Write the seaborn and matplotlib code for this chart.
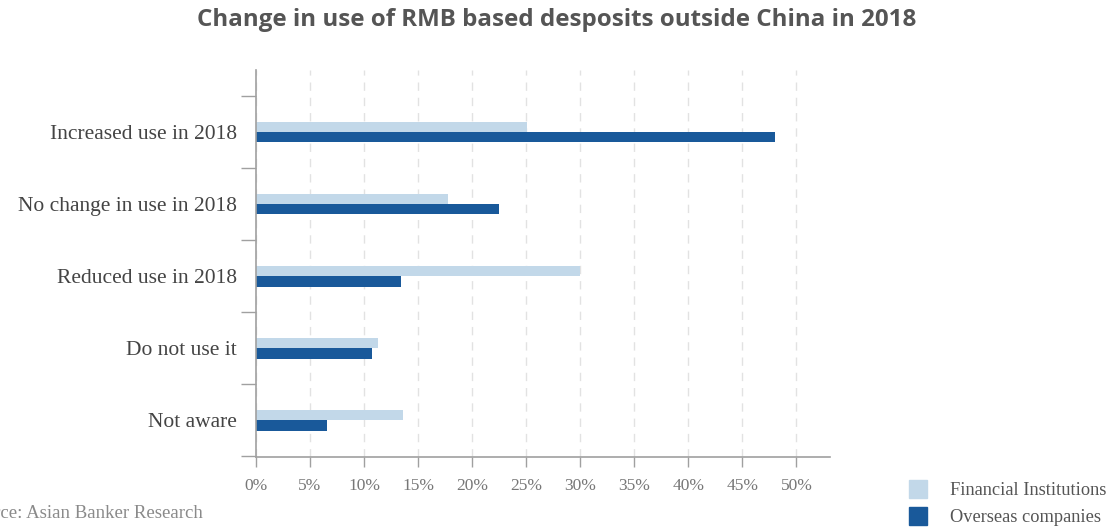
import matplotlib
matplotlib.use("Agg")
import matplotlib.pyplot as plt
from matplotlib.lines import Line2D
from matplotlib.ticker import FixedLocator, FuncFormatter
import pandas as pd
import seaborn as sns

# Survey responses (% of respondents)
categories = [
    "Increased use in 2018",
    "No change in use in 2018",
    "Reduced use in 2018",
    "Do not use it",
    "Not aware",
]
financial_institutions = [25.1, 17.8, 30.0, 11.3, 13.6]
overseas_companies = [48.0, 22.5, 13.4, 10.7, 6.6]
series_names = ["Financial Institutions", "Overseas companies"]
x_ticks = [0, 5, 10, 15, 20, 25, 30, 35, 40, 45, 50]

colors = ["#c2d8e9", "#19599a"]
text_grey = "#555555"
axis_grey = "#a0a0a0"

df = pd.DataFrame({
    "category": categories * 2,
    "value": financial_institutions + overseas_companies,
    "series": [series_names[0]] * len(categories) + [series_names[1]] * len(categories),
})

sns.set_style("white")
plt.rcParams["font.family"] = ["Liberation Serif", "DejaVu Serif"]

fig = plt.figure(figsize=(11.19, 5.29), dpi=100)
ax = fig.add_axes([256 / 1119, 1 - 457 / 529, (830 - 256) / 1119, (457 - 70) / 529])

sns.barplot(
    data=df, y="category", x="value", hue="series", order=categories,
    hue_order=series_names, palette=colors, width=0.29, orient="h",
    saturation=1, ax=ax, legend=False, linewidth=0,
)

ax.set_xlim(0, 53.1)
ax.set_ylim(4.51, -0.86)
ax.set_xlabel("")
ax.set_ylabel("")

# x axis: percent ticks with dashed vertical gridlines
ax.xaxis.set_major_locator(FixedLocator(x_ticks))
ax.xaxis.set_major_formatter(FuncFormatter(lambda v, _: f"{v:.0f}%"))
ax.tick_params(axis="x", which="major", bottom=True, direction="out", length=7, width=1,
               color=axis_grey, labelcolor="#777777", labelsize=12.5, pad=8)
ax.grid(axis="x", color="#e2e2e2", linestyle=(0, (6, 5)), linewidth=1)
ax.grid(axis="y", visible=False)
ax.set_axisbelow(True)

# y axis: separator ticks between categories, labels at category centres
ax.yaxis.set_major_locator(FixedLocator([i - 0.5 for i in range(len(categories) + 1)]))
ax.yaxis.set_major_formatter(FuncFormatter(lambda v, _: ""))
ax.yaxis.set_minor_locator(FixedLocator(list(range(len(categories)))))
ax.yaxis.set_minor_formatter(FuncFormatter(lambda v, _: categories[int(round(v))]))
ax.tick_params(axis="y", which="major", left=True, direction="out", length=11, width=1,
               color=axis_grey)
ax.tick_params(axis="y", which="minor", left=True, length=0, pad=13.7, labelsize=15.5,
               labelcolor="#444444")

for side in ("top", "right"):
    ax.spines[side].set_visible(False)
for side in ("left", "bottom"):
    ax.spines[side].set_color(axis_grey)
    ax.spines[side].set_linewidth(1.2)

fig.text(557 / 1119, 1 - 20 / 529, "Change in use of RMB based desposits outside China in 2018",
         ha="center", va="center", fontsize=17.4, fontweight="bold",
         color=text_grey, family=["Open Sans", "DejaVu Sans"])

fig.text(-35 / 1119, 1 - 514 / 529, "Source: Asian Banker Research",
         ha="left", va="center", fontsize=13.5, color="#8a8a8a")

handles = [Line2D([0], [0], marker="s", linestyle="", markersize=13,
                  markerfacecolor=c, markeredgecolor=c) for c in colors]
fig.legend(handles, series_names, loc="center left",
           bbox_to_anchor=(900 / 1119, 1 - 504 / 529), frameon=False,
           fontsize=13.2, labelcolor="#555555", handletextpad=0.75,
           labelspacing=0.55, borderpad=0, borderaxespad=0)

fig.savefig("out.png", dpi=100)
